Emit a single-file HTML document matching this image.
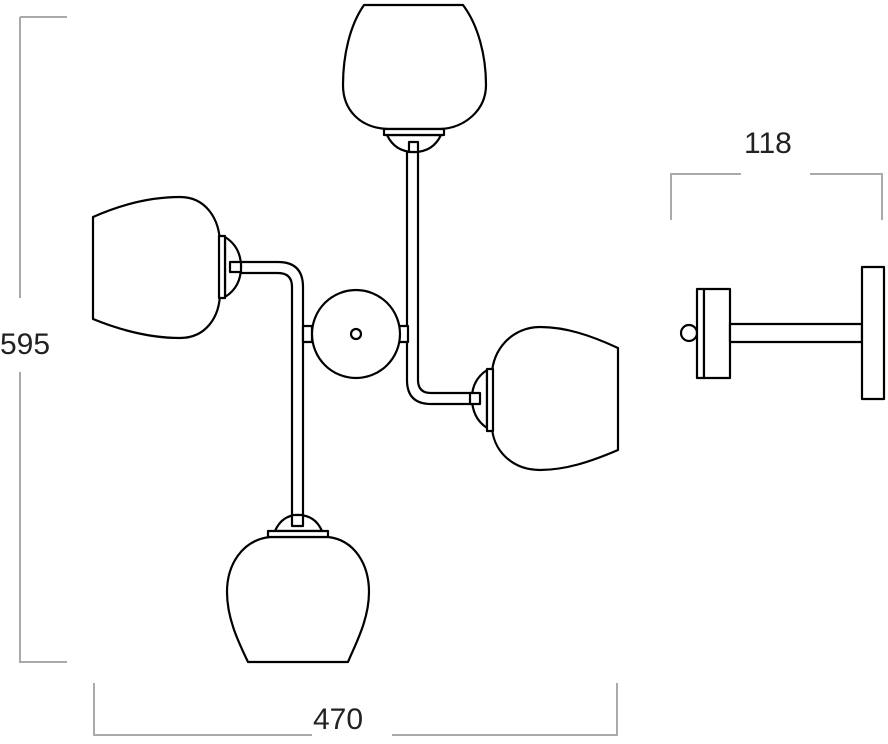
<!DOCTYPE html>
<html><head><style>
html,body{margin:0;padding:0;background:#fff;}
svg{display:block;}
text{font-family:"Liberation Sans",sans-serif;font-size:30px;fill:#222;}
</style></head><body>
<svg width="888" height="744" viewBox="0 0 888 744" xmlns="http://www.w3.org/2000/svg">
<g stroke="#aaa" stroke-width="2" fill="none">
<path d="M20,17 H67 M20,17 V298 M20,372 V662 H67"/>
<path d="M94,683 V735 H312 M392,735 H617 V683"/>
<path d="M671,220 V174 H741 M810,174 H882 V220"/>
</g>
<text x="0" y="354">595</text>
<text x="313" y="729">470</text>
<text x="744" y="153">118</text>
<g stroke="#000" stroke-width="2.2" fill="#fff" stroke-linejoin="round">
<!-- arms -->
<path d="M407,150 V380 Q407,404 431,404 H472 M418,150 V380 Q418,393 431,393 H472"/>
<path d="M230,262 H278 Q303,262 303,287 V515 M230,273 H278 Q292,273 292,287 V515"/>
<rect x="303" y="326" width="9" height="16"/>
<rect x="399" y="326" width="9" height="16"/>
<circle cx="356" cy="334" r="44"/>
<circle cx="356" cy="334" r="5"/>
<!-- top shade -->
<path d="M364,5 L463,5 C478,25 486,55 486,85 C486,110 465,128 440,129 L388,129 C360,128 343,110 343,85 C343,55 350,25 364,5 Z"/>
<path d="M387,135 Q395,152 414,152 Q433,152 441,135 Z"/>
<rect x="384" y="129" width="60" height="6"/>
<rect x="409" y="142" width="9" height="10"/>
<!-- left shade -->
<path d="M93,217 C120,205 150,197 180,197 C205,197 220,218 220,245 L220,292 C220,318 205,338 180,338 C150,338 120,330 93,319 Z"/>
<path d="M225,237 Q241,247 241,267 Q241,287 225,297 Z"/>
<rect x="219" y="236" width="6" height="62"/>
<rect x="230" y="262" width="11" height="10"/>
<!-- right shade -->
<path d="M618,348 C590,335 565,327 540,327 C512,327 492,350 492,375 L492,425 C492,450 512,470 540,470 C565,470 590,462 618,450 Z"/>
<path d="M487,370 Q472,380 472,398 Q472,418 487,428 Z"/>
<rect x="487" y="369" width="6" height="62"/>
<rect x="470" y="393" width="10" height="11"/>
<!-- bottom shade -->
<path d="M270,537 L328,537 C355,540 369,565 369,592 C369,620 355,645 348,662 L248,662 C240,645 227,620 227,592 C227,565 242,540 270,537 Z"/>
<path d="M275,531 Q282,515 298,515 Q315,515 322,531 Z"/>
<rect x="268" y="531" width="60" height="6"/>
<rect x="292" y="515" width="11" height="11"/>
<!-- side view -->
<circle cx="689" cy="333" r="8"/>
<rect x="697" y="289" width="7" height="89"/>
<rect x="704" y="289" width="26" height="89"/>
<rect x="730" y="324" width="132" height="18"/>
<rect x="862" y="267" width="22" height="132"/>
</g>
</svg>
</body></html>
